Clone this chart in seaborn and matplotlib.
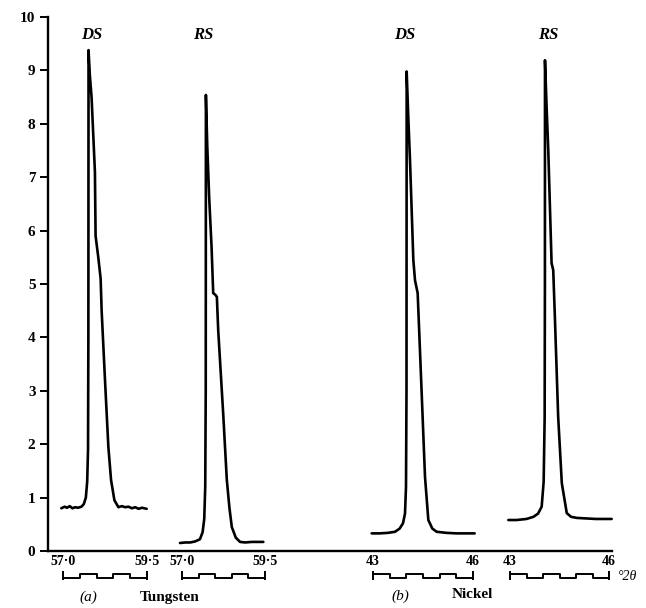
import numpy as np
import pandas as pd
import matplotlib
matplotlib.use("Agg")
import matplotlib.pyplot as plt
import seaborn as sns

# ---- data (2-theta in degrees, intensity in chart units) ----
w_ds_2theta = [56.95, 57.05, 57.12, 57.20, 57.28, 57.36, 57.45, 57.55, 57.62, 57.68,
               57.72, 57.745, 57.755, 57.76, 57.80, 57.85, 57.95, 57.97, 58.05, 58.12,
               58.15, 58.25, 58.35, 58.43, 58.53, 58.65, 58.75, 58.85, 58.95, 59.05,
               59.15, 59.25, 59.35, 59.49]
w_ds_int = [0.80, 0.83, 0.81, 0.84, 0.80, 0.82, 0.81, 0.83, 0.88, 1.00,
            1.30, 1.90, 4.00, 9.38, 8.90, 8.50, 7.10, 5.90, 5.50, 5.10,
            4.50, 3.20, 1.95, 1.33, 0.95, 0.82, 0.84, 0.82, 0.83, 0.80,
            0.82, 0.79, 0.81, 0.79]

w_rs_2theta = [56.94, 57.10, 57.25, 57.40, 57.54, 57.62, 57.67, 57.70, 57.715, 57.72,
               57.76, 57.82, 57.89, 57.94, 58.00, 58.05, 58.09, 58.24, 58.35, 58.43,
               58.50, 58.62, 58.75, 58.90, 59.10, 59.30, 59.45]
w_rs_int = [0.15, 0.16, 0.16, 0.18, 0.22, 0.35, 0.60, 1.20, 3.00, 8.54,
            7.60, 6.60, 5.70, 4.83, 4.80, 4.76, 4.14, 2.58, 1.33, 0.80,
            0.45, 0.25, 0.17, 0.16, 0.17, 0.17, 0.17]

ni_ds_2theta = [42.96, 43.20, 43.45, 43.66, 43.80, 43.90, 43.96, 43.99, 44.005, 44.01,
                44.06, 44.11, 44.21, 44.26, 44.34, 44.46, 44.56, 44.66, 44.78, 44.91,
                45.20, 45.50, 45.80, 46.05]
ni_ds_int = [0.33, 0.33, 0.34, 0.36, 0.42, 0.52, 0.70, 1.20, 3.00, 8.98,
             8.10, 7.32, 5.45, 5.07, 4.83, 2.96, 1.39, 0.58, 0.42, 0.36,
             0.34, 0.33, 0.33, 0.33]

ni_rs_2theta = [42.95, 43.20, 43.50, 43.71, 43.85, 43.96, 44.02, 44.05, 44.058, 44.06,
                44.11, 44.16, 44.26, 44.31, 44.36, 44.46, 44.57, 44.72, 44.85, 45.02,
                45.30, 45.60, 45.90, 46.08]
ni_rs_int = [0.58, 0.58, 0.60, 0.64, 0.70, 0.83, 1.30, 2.50, 5.00, 9.19,
             8.30, 7.50, 5.39, 5.26, 4.38, 2.51, 1.27, 0.71, 0.64, 0.62,
             0.61, 0.60, 0.60, 0.60]

# chart-recorder timing marks (edges in degrees, pen state per segment)
w_marks = [57.0, 57.5, 58.0, 58.5, 59.0, 59.5]
w_mark_state = [0, 1, 0, 1, 0]
ni_marks = [43.0, 43.5, 44.0, 44.5, 45.0, 45.5, 46.0]
ni_mark_state = [1, 0, 1, 0, 1, 0]

w_ticks = [57.0, 59.5]
w_ticklabels = ["57\u00b70", "59\u00b75"]
ni_ticks = [43.0, 46.0]
ni_ticklabels = ["43", "46"]

y_ticks = list(range(0, 11))

# ---- figure ----
sns.set_theme(style="ticks")
plt.rcParams["font.family"] = ["Liberation Serif", "DejaVu Serif"]
plt.rcParams["text.color"] = "black"

W, H = 646, 608
fig = plt.figure(figsize=(W / 100, H / 100), dpi=100)
fig.patch.set_facecolor("white")


def px_box(x0, x1, y_top=17, y_bot=551):
    return [x0 / W, 1 - y_bot / H, (x1 - x0) / W, (y_bot - y_top) / H]


ax = fig.add_axes(px_box(48, 612))
ax.set_facecolor("none")
ax.set_xlim(0, 1)
ax.set_ylim(0, 10)
ax.set_xticks([])
ax.set_yticks(y_ticks)
ax.set_yticklabels([str(t) for t in y_ticks], fontsize=11, fontweight="bold")
ax.tick_params(axis="y", direction="out", length=6, width=1.4, pad=3, colors="black")
sns.despine(ax=ax, top=True, right=True)
for s in ("left", "bottom"):
    ax.spines[s].set_linewidth(1.7)
    ax.spines[s].set_color("black")

panels = [
    (63, 147, w_ds_2theta, w_ds_int, w_ticks, w_ticklabels, w_marks, w_mark_state),
    (182, 265, w_rs_2theta, w_rs_int, w_ticks, w_ticklabels, w_marks, w_mark_state),
    (373, 473, ni_ds_2theta, ni_ds_int, ni_ticks, ni_ticklabels, ni_marks, ni_mark_state),
    (510, 609, ni_rs_2theta, ni_rs_int, ni_ticks, ni_ticklabels, ni_marks, ni_mark_state),
]

for x0, x1, tt, ii, ticks, labels, marks, state in panels:
    a = fig.add_axes(px_box(x0, x1))
    a.patch.set_alpha(0)
    df = pd.DataFrame({"two_theta": tt, "intensity": ii})
    sns.lineplot(data=df, x="two_theta", y="intensity", ax=a, color="black",
                 linewidth=1.9, estimator=None, sort=False)
    a.set_xlim(ticks[0], ticks[1])
    a.set_ylim(0, 10)
    for ln in a.lines:
        ln.set_clip_on(False)
    # timing marks under the axis
    levels = [-0.50 + 0.07 * s for s in state] + [-0.50 + 0.07 * state[-1]]
    a.plot(marks, levels, drawstyle="steps-post", color="black", lw=1.4, clip_on=False)
    a.vlines([marks[0], marks[-1]], -0.54, -0.37, color="black", lw=1.4, clip_on=False)
    for s in a.spines.values():
        s.set_visible(False)
    a.set_yticks([])
    a.set_xticks(ticks)
    a.set_xticklabels(labels, fontsize=10, fontweight="bold")
    a.tick_params(axis="x", length=0, pad=3, colors="black")
    a.set_xlabel("")
    a.set_ylabel("")

# sample labels above the peaks
head = dict(fontsize=12, fontstyle="italic", fontweight="bold", ha="center",
            va="center", color="black")
for x, lab in [(92, "DS"), (203, "RS"), (405, "DS"), (548, "RS")]:
    fig.text(x / W, 1 - 35 / H, lab, **head)

foot = dict(fontsize=11, ha="center", va="center", color="black")
fig.text(88 / W, 1 - 597 / H, "(a)", fontstyle="italic", **foot)
fig.text(170 / W, 1 - 597 / H, "Tungsten", fontweight="bold", **foot)
fig.text(400 / W, 1 - 596 / H, "(b)", fontstyle="italic", **foot)
fig.text(472 / W, 1 - 594 / H, "Nickel", fontweight="bold", **foot)
fig.text(628 / W, 1 - 577 / H, "\u00b02\u03b8", fontsize=10, fontstyle="italic",
         ha="center", va="center", color="black")

fig.savefig("out.png", dpi=100)
